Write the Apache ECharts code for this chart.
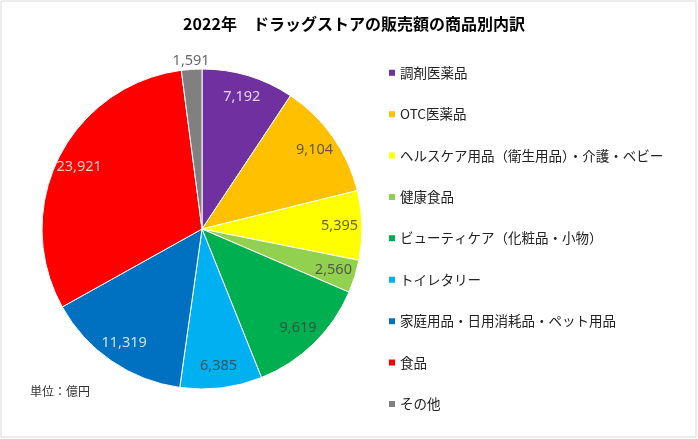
<!DOCTYPE html>
<html lang="ja">
  <head>
    <meta charset="UTF-8" />
    <title>ドラッグストアの販売額の商品別内訳</title>
    <script src="https://cdn.jsdelivr.net/npm/echarts@6.0.0/dist/echarts.min.js"></script>
    <style>
      html, body { margin: 0; padding: 0; background: #fff; }
    </style>
  </head>
  <body>
    <div id="main" style="width: 698px; height: 439px"></div>
    <script type="text/javascript">
      // 商品分類と販売額（億円）
      var categories = [
        "調剤医薬品",
        "OTC医薬品",
        "ヘルスケア用品（衛生用品）・介護・ベビー",
        "健康食品",
        "ビューティケア（化粧品・小物）",
        "トイレタリー",
        "家庭用品・日用消耗品・ペット用品",
        "食品",
        "その他",
      ];
      var sales = [7192, 9104, 5395, 2560, 9619, 6385, 11319, 23921, 1591];
      var colors = ["#7030A0", "#FFC000", "#FFFF00", "#92D050", "#00B050", "#00B0F0", "#0070C0", "#FF0000", "#808080"];
      var labelColors = ["#fff", "#404040", "#404040", "#404040", "#404040", "#404040", "#fff", "#fff", "#404040"];
      var outsideLabel = "その他"; // 小さい扇形は外側に値を出す

      var jp = '"Noto Sans CJK JP", "Noto Sans", sans-serif';
      var fmt = function (v) { return v.toLocaleString("en-US"); };
      var total = sales.reduce(function (a, b) { return a + b; }, 0);

      var myChart = echarts.init(document.getElementById("main"));

      var pieData = categories.map(function (name, i) {
        return { name: name, value: sales[i], itemStyle: { color: colors[i] } };
      });

      // 値ラベル：極座標上で各扇形の中央角に置く [半径比, 累積中央値, 値]
      var acc = 0;
      var labelPoints = categories.map(function (name, i) {
        var mid = acc + sales[i] / 2;
        acc += sales[i];
        var r = name === outsideLabel ? 1.05 : 0.86;
        return { value: [r, mid, sales[i]], label: { color: labelColors[i] } };
      });

      var option = {
        backgroundColor: "#fff",
        title: {
          text: "2022年　ドラッグストアの販売額の商品別内訳",
          left: 349,
          top: 11,
          textAlign: "center",
          textStyle: { fontFamily: jp, fontSize: 16, fontWeight: "bold", color: "#000" },
        },
        legend: {
          orient: "vertical",
          left: 382,
          top: 61,
          itemGap: 27.9,
          itemWidth: 8,
          itemHeight: 8,
          icon: "rect",
          data: categories,
          textStyle: { fontFamily: jp, fontSize: 13.5, color: "#222", padding: [0, 0, 0, -1] },
        },
        // 円の半径160を radiusAxis の 1 に合わせる（外側ラベル用に1.1まで）
        polar: { center: [202, 229], radius: [0, 176] },
        angleAxis: { type: "value", min: 0, max: total, startAngle: 90, clockwise: true, show: false },
        radiusAxis: { type: "value", min: 0, max: 1.1, show: false },
        graphic: [
          {
            type: "rect",
            shape: { x: 1, y: 1, width: 695, height: 436 },
            style: { fill: "none", stroke: "#d9d9d9", lineWidth: 1 },
            silent: true,
          },
          {
            type: "text",
            left: 30,
            top: 385,
            style: { text: "単位：億円", fontFamily: jp, fontSize: 12, fill: "#333" },
          },
        ],
        series: [
          {
            name: "販売額",
            type: "pie",
            center: [202, 229],
            radius: [0, 160],
            startAngle: 90,
            clockwise: true,
            itemStyle: { borderColor: "#fff", borderWidth: 1 },
            label: { show: false },
            labelLine: { show: false },
            emphasis: { disabled: true },
            data: pieData,
          },
          {
            name: "ラベル",
            type: "scatter",
            coordinateSystem: "polar",
            symbolSize: 0,
            silent: true,
            clip: false,
            z: 10,
            label: {
              show: true,
              position: "inside",
              fontFamily: "Noto Sans",
              fontSize: 14.5,
              formatter: function (p) { return fmt(p.value[2]); },
            },
            emphasis: { disabled: true },
            data: labelPoints,
          },
        ],
      };
      myChart.setOption(option);
    </script>
  </body>
</html>
